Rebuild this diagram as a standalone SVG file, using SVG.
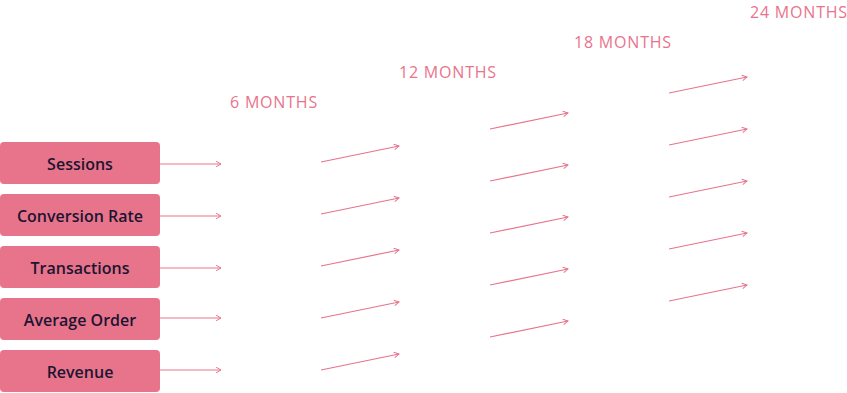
<svg xmlns="http://www.w3.org/2000/svg" width="847" height="393" viewBox="0 0 847 393">
<defs>
<style>
.box{fill:#e8748c;}
.bt{font-family:"Open Sans","Noto Sans",sans-serif;font-weight:600;font-size:16px;fill:#1c1530;text-anchor:middle;}
.mt{font-family:"Open Sans","Noto Sans",sans-serif;font-size:16px;letter-spacing:0.8px;fill:#e8748c;}
.c{stroke:#e8748c;stroke-width:1.2;fill:none;marker-end:url(#ah);}
</style>
<marker id="ah" viewBox="0 0 10 10" refX="9" refY="5" markerWidth="7" markerHeight="7" markerUnits="userSpaceOnUse" orient="auto">
<path d="M2,1 L9,5 L2,9" fill="none" stroke="#e8748c" stroke-width="1.4"/>
</marker>
</defs>
<rect width="847" height="393" fill="#fff"/>
<g id="labels">
<text class="mt" x="230" y="108">6 MONTHS</text>
<text class="mt" x="399" y="78">12 MONTHS</text>
<text class="mt" x="574" y="48">18 MONTHS</text>
<text class="mt" x="750" y="18">24 MONTHS</text>
</g>
<g id="n-sessions"><rect class="box" x="0" y="142" width="160" height="42" rx="4"/><text class="bt" x="80" y="169.5">Sessions</text></g>
<g id="n-conversion"><rect class="box" x="0" y="194" width="160" height="42" rx="4"/><text class="bt" x="80" y="221.5">Conversion Rate</text></g>
<g id="n-transactions"><rect class="box" x="0" y="246" width="160" height="42" rx="4"/><text class="bt" x="80" y="273.5">Transactions</text></g>
<g id="n-aov"><rect class="box" x="0" y="298" width="160" height="42" rx="4"/><text class="bt" x="80" y="325.5">Average Order</text></g>
<g id="n-revenue"><rect class="box" x="0" y="350" width="160" height="42" rx="4"/><text class="bt" x="80" y="377.5">Revenue</text></g>
<g id="connectors">
<line class="c" x1="160" y1="164" x2="221" y2="164"/>
<line class="c" x1="160" y1="216" x2="221" y2="216"/>
<line class="c" x1="160" y1="268" x2="221" y2="268"/>
<line class="c" x1="160" y1="318" x2="221" y2="318"/>
<line class="c" x1="160" y1="370" x2="221" y2="370"/>
<line class="c" x1="321" y1="162" x2="399" y2="146"/>
<line class="c" x1="321" y1="214" x2="399" y2="198"/>
<line class="c" x1="321" y1="266" x2="399" y2="250"/>
<line class="c" x1="321" y1="318" x2="399" y2="302"/>
<line class="c" x1="321" y1="370" x2="399" y2="354"/>
<line class="c" x1="490" y1="129" x2="568" y2="113"/>
<line class="c" x1="490" y1="181" x2="568" y2="165"/>
<line class="c" x1="490" y1="233" x2="568" y2="217"/>
<line class="c" x1="490" y1="285" x2="568" y2="269"/>
<line class="c" x1="490" y1="337" x2="568" y2="321"/>
<line class="c" x1="669" y1="93" x2="747" y2="77"/>
<line class="c" x1="669" y1="145" x2="747" y2="129"/>
<line class="c" x1="669" y1="197" x2="747" y2="181"/>
<line class="c" x1="669" y1="249" x2="747" y2="233"/>
<line class="c" x1="669" y1="301" x2="747" y2="285"/>
</g>
</svg>
